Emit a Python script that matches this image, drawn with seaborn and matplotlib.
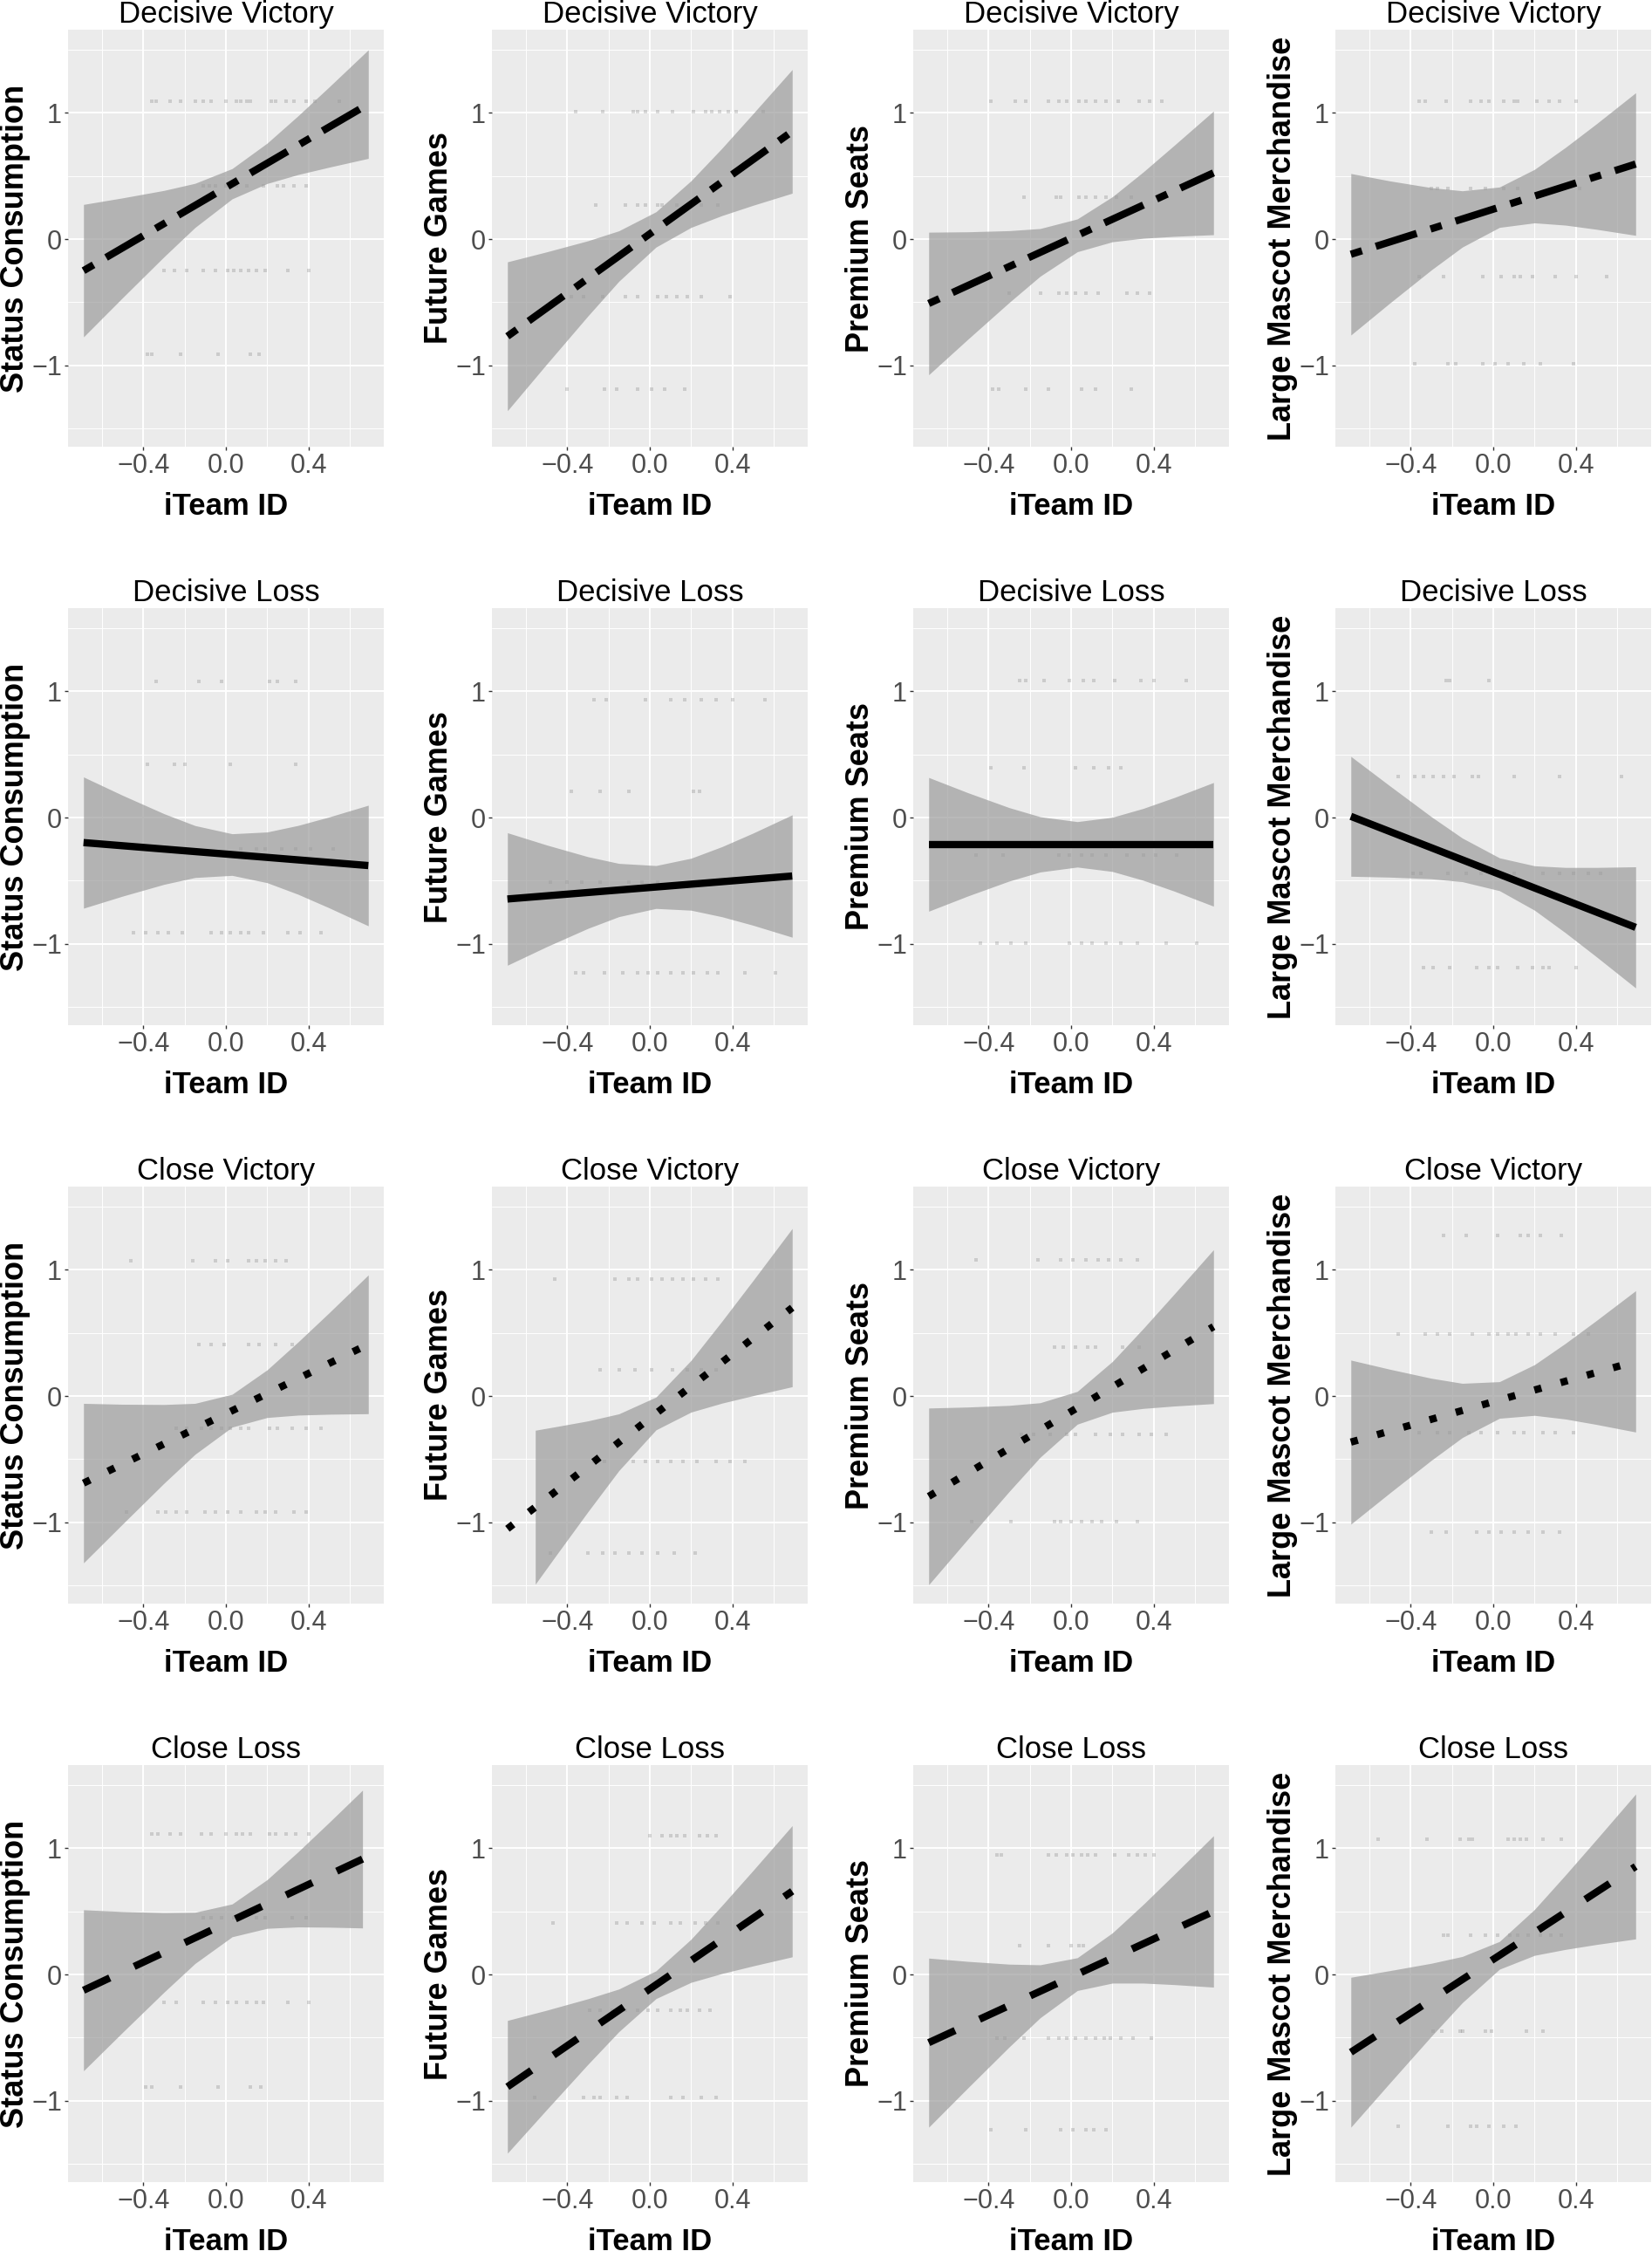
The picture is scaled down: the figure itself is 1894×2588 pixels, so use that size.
import numpy as np
import pandas as pd
import matplotlib
matplotlib.use("Agg")
import matplotlib.pyplot as plt
import seaborn as sns
from matplotlib.ticker import FixedLocator

# ---------------- data ----------------
row_titles = ["Decisive Victory", "Decisive Loss", "Close Victory", "Close Loss"]
col_labels = ["Status Consumption", "Future Games", "Premium Seats", "Large Mascot Merchandise"]
x_label = "iTeam ID"
x_ticks = [-0.4, 0.0, 0.4]
x_tick_labels = ["\u22120.4", "0.0", "0.4"]
y_ticks = [-1, 0, 1]
y_tick_labels = ["\u22121", "0", "1"]

# fitted line end points (x0, x1) and (y0, y1) per panel [row][col]
line_x_start = [[-0.69] * 4, [-0.69] * 4, [-0.69] * 4, [-0.69] * 4]
line_x_end = [[0.69] * 4, [0.69] * 4, [0.69] * 4, [0.662, 0.69, 0.69, 0.69]]
line_y_start = [[-0.25, -0.77, -0.51, -0.12],
                [-0.198, -0.645, -0.212, 0.01],
                [-0.69, -1.052, -0.795, -0.365],
                [-0.125, -0.89, -0.54, -0.616]]
line_y_end = [[1.07, 0.854, 0.525, 0.595],
              [-0.38, -0.463, -0.212, -0.87],
              [0.41, 0.70, 0.55, 0.275],
              [0.915, 0.66, 0.50, 0.856]]

# confidence band read at these x positions
band_x = [-0.69, -0.5, -0.3, -0.15, 0.03, 0.2, 0.35, 0.5, 0.69]
band_x_cv_future = [-0.555, -0.45, -0.3, -0.15, 0.03, 0.2, 0.35, 0.5, 0.69]
band_x_cl_status = [-0.69, -0.5, -0.3, -0.15, 0.03, 0.2, 0.35, 0.5, 0.662]

dv_band_lo = [[-0.775, -0.463, -0.140, 0.092, 0.319, 0.441, 0.512, 0.570, 0.64],
              [-1.36, -0.991, -0.609, -0.334, -0.063, 0.093, 0.187, 0.268, 0.364],
              [-1.075, -0.793, -0.502, -0.294, -0.10, -0.021, 0.007, 0.022, 0.035],
              [-0.76, -0.505, -0.244, -0.063, 0.093, 0.129, 0.111, 0.078, 0.03]]
dv_band_hi = [[0.275, 0.327, 0.386, 0.442, 0.559, 0.761, 0.978, 1.206, 1.50],
              [-0.18, -0.101, -0.013, 0.066, 0.217, 0.463, 0.721, 0.994, 1.344],
              [0.055, 0.058, 0.067, 0.084, 0.16, 0.336, 0.533, 0.744, 1.015],
              [0.52, 0.461, 0.408, 0.383, 0.413, 0.553, 0.727, 0.914, 1.16]]
dl_band_lo = [[-0.718, -0.622, -0.529, -0.475, -0.458, -0.516, -0.608, -0.715, -0.858],
              [-1.17, -1.023, -0.878, -0.785, -0.72, -0.734, -0.786, -0.853, -0.948],
              [-0.742, -0.621, -0.503, -0.431, -0.392, -0.427, -0.497, -0.583, -0.702],
              [-0.465, -0.472, -0.485, -0.508, -0.579, -0.734, -0.913, -1.103, -1.35]]
dl_band_hi = [[0.322, 0.176, 0.031, -0.063, -0.128, -0.114, -0.062, 0.005, 0.098],
              [-0.12, -0.217, -0.31, -0.363, -0.38, -0.322, -0.23, -0.123, 0.022],
              [0.318, 0.197, 0.079, 0.007, -0.032, 0.003, 0.073, 0.159, 0.278],
              [0.485, 0.25, 0.007, -0.162, -0.319, -0.382, -0.395, -0.395, -0.39]]
cv_band_lo = [[-1.322, -1.013, -0.691, -0.462, -0.246, -0.17, -0.151, -0.144, -0.14],
              [-1.491, -1.253, -0.917, -0.591, -0.268, -0.127, -0.056, 0.003, 0.074],
              [-1.495, -1.133, -0.756, -0.485, -0.223, -0.128, -0.098, -0.079, -0.06],
              [-1.015, -0.766, -0.509, -0.329, -0.176, -0.153, -0.182, -0.225, -0.285]]
cv_band_hi = [[-0.058, -0.065, -0.067, -0.058, 0.014, 0.208, 0.429, 0.66, 0.96],
              [-0.271, -0.241, -0.197, -0.141, -0.008, 0.283, 0.594, 0.915, 1.328],
              [-0.095, -0.087, -0.074, -0.053, 0.037, 0.274, 0.536, 0.809, 1.16],
              [0.285, 0.212, 0.141, 0.101, 0.114, 0.249, 0.418, 0.599, 0.835]]
cl_band_lo = [[-0.763, -0.457, -0.14, 0.087, 0.299, 0.366, 0.377, 0.375, 0.369],
              [-1.416, -1.071, -0.712, -0.453, -0.191, -0.062, 0.008, 0.068, 0.14],
              [-1.21, -0.898, -0.574, -0.343, -0.127, -0.068, -0.068, -0.08, -0.10],
              [-1.21, -0.857, -0.489, -0.223, 0.042, 0.152, 0.199, 0.238, 0.282]]
cl_band_hi = [[0.513, 0.499, 0.49, 0.493, 0.559, 0.752, 0.973, 1.205, 1.461],
              [-0.364, -0.283, -0.192, -0.115, 0.029, 0.28, 0.548, 0.824, 1.18],
              [0.13, 0.104, 0.082, 0.077, 0.133, 0.33, 0.556, 0.794, 1.10],
              [-0.022, 0.031, 0.089, 0.143, 0.262, 0.516, 0.789, 1.07, 1.43]]

# faint observation points: (y level, [x positions]) per panel
dv_points = [
    [(1.09, [-0.36, -0.34, -0.27, -0.22, -0.15, -0.11, -0.07, 0.0, 0.05, 0.07, 0.1, 0.12, 0.22, 0.24, 0.29, 0.33, 0.39, 0.43, 0.55]),
     (0.42, [-0.11, -0.08, -0.05, 0.0, 0.05, 0.1, 0.18, 0.25, 0.28, 0.33, 0.39]),
     (-0.245, [-0.30, -0.25, -0.19, -0.11, -0.05, 0.01, 0.04, 0.07, 0.11, 0.15, 0.19, 0.30, 0.40]),
     (-0.91, [-0.38, -0.36, -0.22, -0.04, 0.12, 0.16])],
    [(1.007, [-0.36, -0.23, -0.08, -0.06, -0.02, 0.04, 0.11, 0.21, 0.27, 0.30, 0.34, 0.38, 0.42, 0.55]),
     (0.273, [-0.26, -0.12, -0.06, -0.02, 0.04, 0.06, 0.13, 0.25, 0.33]),
     (-0.459, [-0.38, -0.32, -0.23, -0.12, -0.06, 0.04, 0.08, 0.13, 0.18, 0.25, 0.39]),
     (-1.19, [-0.40, -0.22, -0.16, -0.06, 0.01, 0.07, 0.17])],
    [(1.09, [-0.39, -0.27, -0.22, -0.11, -0.06, -0.02, 0.04, 0.07, 0.12, 0.17, 0.23, 0.33, 0.38, 0.44]),
     (0.33, [-0.23, -0.07, -0.05, 0.04, 0.07, 0.12, 0.17, 0.22, 0.29]),
     (-0.43, [-0.30, -0.15, -0.06, -0.02, 0.02, 0.07, 0.13, 0.27, 0.32, 0.38]),
     (-1.186, [-0.38, -0.35, -0.22, -0.11, 0.05, 0.12, 0.29])],
    [(1.09, [-0.36, -0.33, -0.23, -0.11, -0.06, -0.02, 0.05, 0.1, 0.12, 0.21, 0.27, 0.32, 0.40]),
     (0.40, [-0.30, -0.27, -0.22, -0.11, -0.04, 0.05, 0.12, 0.42]),
     (-0.294, [-0.36, -0.24, -0.05, 0.04, 0.1, 0.13, 0.19, 0.30, 0.40, 0.55]),
     (-0.986, [-0.38, -0.22, -0.18, -0.05, 0.01, 0.07, 0.15, 0.23, 0.39])],
]
dl_points = [
    [(1.08, [-0.34, -0.13, -0.02, 0.21, 0.25, 0.34]),
     (0.42, [-0.38, -0.25, -0.2, 0.02, 0.34]),
     (-0.25, [0.07, 0.15, 0.19, 0.27, 0.34, 0.41, 0.52]),
     (-0.915, [-0.45, -0.39, -0.33, -0.28, -0.21, -0.07, -0.02, 0.02, 0.07, 0.11, 0.18, 0.30, 0.36, 0.46])],
    [(0.936, [-0.27, -0.21, -0.02, 0.10, 0.17, 0.25, 0.32, 0.40, 0.56]),
     (0.21, [-0.38, -0.24, -0.10, 0.21, 0.24]),
     (-0.51, [-0.48, -0.40, -0.33, -0.24, -0.10, -0.04, 0.04]),
     (-1.233, [-0.36, -0.32, -0.22, -0.13, -0.06, -0.01, 0.04, 0.1, 0.16, 0.21, 0.28, 0.33, 0.46, 0.61])],
    [(1.085, [-0.25, -0.22, -0.13, -0.01, 0.06, 0.11, 0.21, 0.34, 0.40, 0.56]),
     (0.395, [-0.39, -0.23, 0.02, 0.11, 0.18, 0.24]),
     (-0.30, [-0.46, -0.33, -0.06, -0.01, 0.05, 0.10, 0.17, 0.27, 0.35, 0.41, 0.51]),
     (-0.993, [-0.44, -0.36, -0.29, -0.22, -0.01, 0.05, 0.1, 0.17, 0.24, 0.32, 0.46, 0.61])],
    [(1.085, [-0.23, -0.21, -0.02]),
     (0.325, [-0.46, -0.38, -0.34, -0.29, -0.24, -0.19, -0.1, -0.07, 0.10, 0.32, 0.62]),
     (-0.44, [-0.39, -0.35, -0.22, -0.13, -0.06, 0.02, 0.10, 0.24, 0.32, 0.39, 0.46, 0.52]),
     (-1.19, [-0.34, -0.29, -0.21, -0.08, -0.02, 0.02, 0.12, 0.19, 0.24, 0.27, 0.40])],
]
cv_points = [
    [(1.073, [-0.46, -0.16, -0.05, 0.01, 0.11, 0.15, 0.19, 0.24, 0.29]),
     (0.41, [-0.13, -0.07, -0.01, 0.11, 0.16, 0.24, 0.32]),
     (-0.256, [-0.24, -0.19, -0.12, -0.07, -0.02, 0.02, 0.07, 0.11, 0.21, 0.25, 0.32, 0.39, 0.46]),
     (-0.922, [-0.48, -0.33, -0.29, -0.24, -0.19, -0.10, -0.05, 0.01, 0.07, 0.15, 0.19, 0.24, 0.33, 0.39])],
    [(0.93, [-0.46, -0.17, -0.10, -0.06, 0.01, 0.06, 0.11, 0.16, 0.21, 0.27, 0.33]),
     (0.207, [-0.24, -0.15, -0.07, 0.01, 0.11, 0.18, 0.25, 0.32]),
     (-0.518, [-0.27, -0.22, -0.08, -0.02, 0.04, 0.1, 0.16, 0.23, 0.32, 0.39, 0.46]),
     (-1.245, [-0.48, -0.30, -0.23, -0.17, -0.10, -0.04, 0.04, 0.12, 0.22])],
    [(1.078, [-0.46, -0.16, -0.05, 0.01, 0.07, 0.13, 0.18, 0.24, 0.32]),
     (0.388, [-0.08, -0.04, 0.02, 0.08, 0.12, 0.25, 0.33]),
     (-0.306, [-0.24, -0.18, -0.10, -0.02, 0.02, 0.12, 0.19, 0.25, 0.33, 0.39, 0.46]),
     (-0.998, [-0.48, -0.29, -0.08, -0.05, 0.0, 0.05, 0.10, 0.15, 0.22, 0.32])],
    [(1.27, [-0.24, -0.13, 0.02, 0.13, 0.17, 0.23, 0.33]),
     (0.49, [-0.46, -0.33, -0.27, -0.21, -0.10, -0.02, 0.02, 0.07, 0.11, 0.17, 0.23, 0.30, 0.39, 0.46]),
     (-0.29, [-0.36, -0.27, -0.21, -0.12, -0.06, 0.02, 0.10, 0.15, 0.24, 0.30, 0.39]),
     (-1.075, [-0.30, -0.23, -0.08, -0.02, 0.04, 0.10, 0.17, 0.24, 0.32])],
]
cl_points = [
    [(1.113, [-0.36, -0.33, -0.27, -0.22, -0.12, -0.07, 0.0, 0.05, 0.08, 0.12, 0.21, 0.24, 0.29, 0.34, 0.40]),
     (0.447, [-0.11, -0.07, -0.02, 0.04, 0.08, 0.15, 0.19, 0.32, 0.39]),
     (-0.221, [-0.30, -0.24, -0.11, -0.05, 0.01, 0.05, 0.10, 0.15, 0.18, 0.30, 0.40]),
     (-0.894, [-0.39, -0.36, -0.22, -0.04, 0.12, 0.17])],
    [(1.10, [0.0, 0.06, 0.10, 0.13, 0.17, 0.24, 0.28, 0.32]),
     (0.407, [-0.47, -0.16, -0.11, -0.04, 0.02, 0.10, 0.15, 0.22, 0.27, 0.33]),
     (-0.282, [-0.29, -0.24, -0.18, -0.12, -0.06, -0.01, 0.04, 0.1, 0.15, 0.18, 0.24, 0.29]),
     (-0.976, [-0.56, -0.32, -0.27, -0.24, -0.16, -0.11, 0.1, 0.16, 0.25, 0.32])],
    [(0.948, [-0.36, -0.34, -0.11, -0.07, -0.02, 0.01, 0.05, 0.08, 0.12, 0.21, 0.28, 0.32, 0.36, 0.40]),
     (0.226, [-0.25, -0.11, 0.0, 0.04, 0.06]),
     (-0.504, [-0.36, -0.32, -0.23, -0.11, -0.06, -0.02, 0.02, 0.07, 0.12, 0.16, 0.19, 0.24, 0.30, 0.39]),
     (-1.228, [-0.39, -0.22, -0.05, 0.01, 0.07, 0.11, 0.17])],
    [(1.073, [-0.56, -0.32, -0.16, -0.12, -0.10, 0.07, 0.10, 0.13, 0.16, 0.24, 0.33]),
     (0.313, [-0.24, -0.22, -0.11, -0.04, 0.02, 0.08, 0.12, 0.17, 0.23, 0.28, 0.33]),
     (-0.447, [-0.29, -0.25, -0.16, -0.15, -0.04, -0.01, 0.16, 0.24]),
     (-1.205, [-0.46, -0.22, -0.11, -0.08, -0.02, 0.05, 0.11])],
]

band_lo_rows = [dv_band_lo, dl_band_lo, cv_band_lo, cl_band_lo]
band_hi_rows = [dv_band_hi, dl_band_hi, cv_band_hi, cl_band_hi]
points_rows = [dv_points, dl_points, cv_points, cl_points]

# ---------------- style ----------------
sns.set_theme(style="darkgrid")
plt.rcParams["font.family"] = ["Liberation Sans", "DejaVu Sans"]
plt.rcParams["lines.scale_dashes"] = True

row_linestyles = [(0, (1.6, 2.0, 5.9, 2.0)), "solid", (0, (1.0, 2.75)), (0, (4.0, 3.7))]

W, H = 1894, 2588
fig = plt.figure(figsize=(W / 100, H / 100), dpi=100)
fig.patch.set_facecolor("white")
col_left = [78, 564, 1047, 1531]
row_top = [34, 697, 1360, 2023]
pw, ph = 362, 478

for r in range(4):
    for c in range(4):
        ax = fig.add_axes([col_left[c] / W, 1 - (row_top[r] + ph) / H, pw / W, ph / H])
        ax.set_facecolor("#EBEBEB")
        ax.set_axisbelow(True)

        # points
        xs, ys = [], []
        for lvl, xl in points_rows[r][c]:
            xs += xl
            ys += [lvl] * len(xl)
        sns.scatterplot(x=xs, y=ys, ax=ax, marker="s", s=5, color="#5a5a5a",
                        alpha=0.22, linewidth=0, zorder=2, legend=False)

        # confidence band
        if r == 2 and c == 1:
            bx = band_x_cv_future
        elif r == 3 and c == 0:
            bx = band_x_cl_status
        else:
            bx = band_x
        ax.fill_between(bx, band_lo_rows[r][c], band_hi_rows[r][c],
                        color="#999999", alpha=0.68, linewidth=0, zorder=3)

        # fitted line
        sns.lineplot(x=[line_x_start[r][c], line_x_end[r][c]],
                     y=[line_y_start[r][c], line_y_end[r][c]],
                     ax=ax, color="black", linewidth=6, linestyle=row_linestyles[r],
                     errorbar=None, zorder=4, legend=False)
        for ln in ax.lines:
            ln.set_solid_capstyle("butt")
            ln.set_dash_capstyle("butt")

        ax.set_xlim(-0.765, 0.765)
        ax.set_ylim(-1.645, 1.66)
        ax.set_xticks(x_ticks)
        ax.set_xticklabels(x_tick_labels)
        ax.set_yticks(y_ticks)
        ax.set_yticklabels(y_tick_labels)
        ax.xaxis.set_minor_locator(FixedLocator([-0.6, -0.2, 0.2, 0.6]))
        ax.yaxis.set_minor_locator(FixedLocator([-1.5, -0.5, 0.5, 1.5]))
        ax.grid(which="major", color="white", linewidth=1.4)
        ax.grid(which="minor", color="white", linewidth=0.7)
        ax.tick_params(which="minor", length=0)
        ax.tick_params(which="major", length=3, width=1, color="#333333",
                       labelsize=22, labelcolor="#4D4D4D", pad=2,
                       bottom=True, left=True)
        for sp in ax.spines.values():
            sp.set_visible(False)

        ax.set_title(row_titles[r], fontsize=25, pad=6, color="black")
        ax.set_xlabel(x_label, fontsize=25, fontweight="bold", color="black")
        ax.xaxis.set_label_coords(0.5, -0.144)
        ax.xaxis.label.set_va("center")
        ax.set_ylabel(col_labels[c], fontsize=26, fontweight="bold", color="black")
        ax.yaxis.set_label_coords(-0.168, 0.5)
        ax.yaxis.label.set_va("center")

fig.savefig("out.png", dpi=100)
